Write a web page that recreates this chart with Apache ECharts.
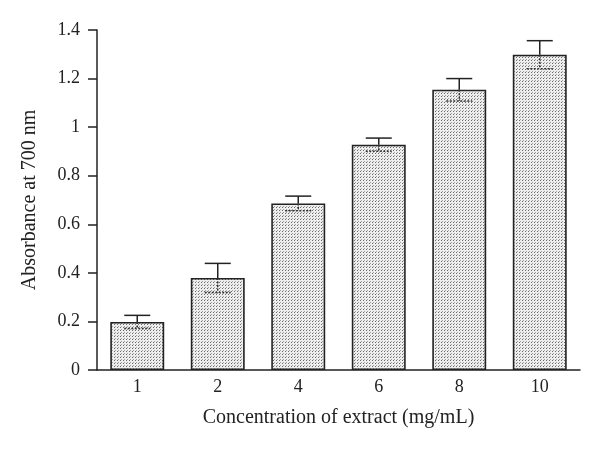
<!DOCTYPE html>
<html>
<head>
<meta charset="utf-8">
<script src="https://cdn.jsdelivr.net/npm/echarts@6/dist/echarts.min.js"></script>
<style>html,body{margin:0;padding:0;background:#fff;}#c{width:600px;height:451px;}</style>
</head>
<body>
<div id="c"></div>
<script>
var categories = ['1', '2', '4', '6', '8', '10'];
var absorbance = [0.198, 0.379, 0.686, 0.928, 1.154, 1.298];
var errorSD = [0.027, 0.06, 0.03, 0.027, 0.046, 0.058];
var yTicks = { min: 0, max: 1.4, interval: 0.2 };

function makePattern() {
  var c = document.createElement('canvas');
  c.width = 3; c.height = 3;
  var ctx = c.getContext('2d');
  ctx.fillStyle = '#eeeeee';
  ctx.fillRect(0, 0, 3, 3);
  ctx.fillStyle = '#6a6a6a';
  ctx.fillRect(0, 0, 1, 1);
  ctx.fillStyle = '#a0a0a0';
  ctx.fillRect(1, 2, 1, 1);
  return c;
}

var chart = echarts.init(document.getElementById('c'), null, { renderer: 'canvas' });
var font = '"Liberation Serif", "DejaVu Serif", serif';
var errData = categories.map(function (c, i) { return [i, absorbance[i], errorSD[i]]; });

chart.setOption({
  animation: false,
  grid: { left: 97, right: 20, top: 30, bottom: 81 },
  xAxis: {
    type: 'category',
    data: categories,
    name: 'Concentration of extract (mg/mL)',
    nameLocation: 'middle',
    nameGap: 38,
    nameTextStyle: { fontFamily: font, fontSize: 20, color: '#222' },
    axisLine: { lineStyle: { color: '#222', width: 1.5 } },
    axisTick: { show: false },
    axisLabel: { fontFamily: font, fontSize: 18, color: '#222', margin: 8 }
  },
  yAxis: {
    type: 'value',
    min: yTicks.min, max: yTicks.max, interval: yTicks.interval,
    name: 'Absorbance at 700 nm',
    nameLocation: 'middle',
    nameGap: 57,
    nameTextStyle: { fontFamily: font, fontSize: 20, color: '#222' },
    axisLine: { show: true, lineStyle: { color: '#222', width: 1.5 } },
    axisTick: { show: true, inside: false, length: 9, lineStyle: { color: '#222', width: 1.5 } },
    axisLabel: { fontFamily: font, fontSize: 18, color: '#222', margin: 17 },
    splitLine: { show: false }
  },
  series: [
    {
      type: 'bar',
      data: absorbance,
      barWidth: '67%',
      itemStyle: {
        color: { image: makePattern(), repeat: 'repeat' },
        borderColor: '#222',
        borderWidth: 1.6
      }
    },
    {
      type: 'custom',
      data: errData,
      z: 10,
      renderItem: function (params, api) {
        var i = api.value(0), v = api.value(1), e = api.value(2);
        var top = api.coord([i, v + e]);
        var mid = api.coord([i, v]);
        var bot = api.coord([i, v - e]);
        var hw = 13;
        var solid = { stroke: '#222', lineWidth: 1.5 };
        var dashed = { stroke: '#333', lineWidth: 1.5, lineDash: [2, 1.5] };
        return {
          type: 'group',
          children: [
            { type: 'line', shape: { x1: top[0], y1: top[1], x2: mid[0], y2: mid[1] }, style: solid },
            { type: 'line', shape: { x1: top[0] - hw, y1: top[1], x2: top[0] + hw, y2: top[1] }, style: solid },
            { type: 'line', shape: { x1: mid[0], y1: mid[1], x2: bot[0], y2: bot[1] }, style: dashed },
            { type: 'line', shape: { x1: bot[0] - hw, y1: bot[1], x2: bot[0] + hw, y2: bot[1] }, style: dashed }
          ]
        };
      }
    }
  ]
});
</script>
</body>
</html>
